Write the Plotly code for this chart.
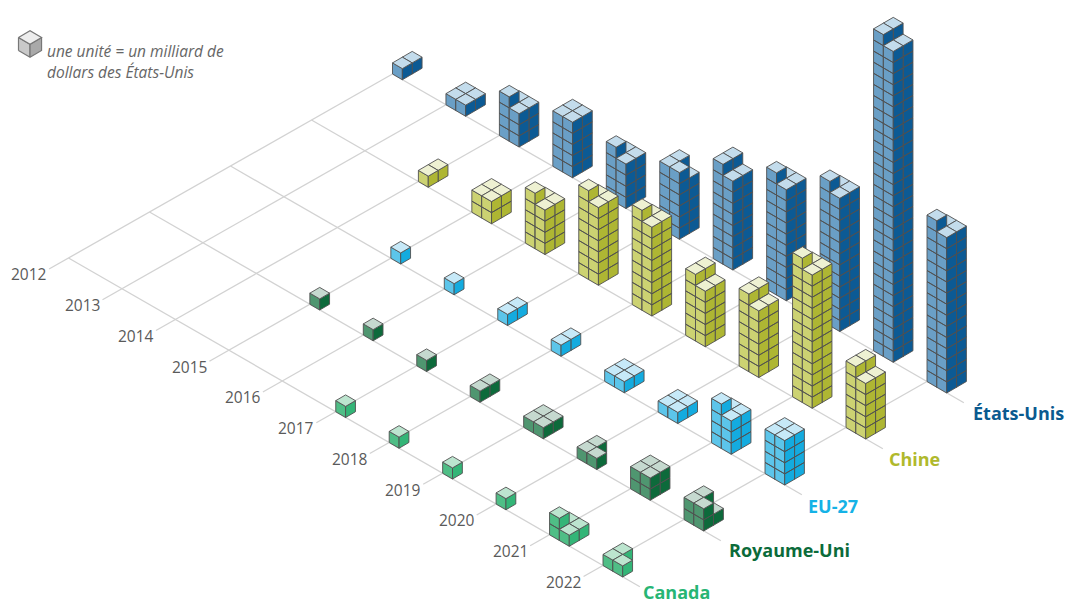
import plotly.graph_objects as go

YEARS = list(range(2012, 2023))
COUNTRIES = ["États-Unis", "Chine", "EU-27", "Royaume-Uni", "Canada"]

etats_unis = [2, 4, 13, 20, 17, 23, 34, 41, 49, 114, 57]
chine = [0, 0, 2, 8, 17, 29, 33, 22, 26, 49, 22]
eu27 = [0, 0, 0, 1, 1, 2, 2, 4, 4, 13, 16]
royaume_uni = [0, 0, 0, 1, 1, 1, 2, 4, 3, 8, 7]
canada = [0, 0, 0, 0, 0, 1, 1, 1, 1, 5, 3]
VALUES = [etats_unis, chine, eu27, royaume_uni, canada]

COLORS = [
    ("#c3dcec", "#6a9fc6", "#0c5a94"),
    ("#eef1d2", "#ccd272", "#aeb633"),
    ("#c6e9f8", "#5cc5ea", "#14abdf"),
    ("#c5d9cf", "#4f9670", "#0d6a3b"),
    ("#bce5cf", "#4fbe86", "#33b577"),
]
LABEL_COLORS = ["#0a5a8f", "#b0b92c", "#15b2e6", "#0b6b3a", "#27b574"]
EDGE = "#505050"
GRID = "#d2d2d2"

ORIGIN = (392.5, 74.0)
YEAR_STEP = (53.45, 30.75)
COUNTRY_STEP = (-81.0, 46.0)
UX, UY, UH = 9.85, 5.75, 11.1


def node(ci, yi):
    return (ORIGIN[0] + yi * YEAR_STEP[0] + ci * COUNTRY_STEP[0],
            ORIGIN[1] + yi * YEAR_STEP[1] + ci * COUNTRY_STEP[1])


def pt(base, u, v, h):
    return (base[0] + (u + v) * UX, base[1] + (u - v) * UY - h * UH)


def add_faces(xs, ys, corners):
    for x, y in corners + corners[:1]:
        xs.append(x)
        ys.append(y)
    xs.append(None)
    ys.append(None)


def column(fig, base, u, v, height, cols):
    for face in (1, 2):
        xs, ys = [], []
        for h in range(height):
            if face == 1:
                c = [pt(base, u, v, h), pt(base, u + 1, v, h), pt(base, u + 1, v, h + 1), pt(base, u, v, h + 1)]
            else:
                c = [pt(base, u + 1, v, h), pt(base, u + 1, v + 1, h), pt(base, u + 1, v + 1, h + 1), pt(base, u + 1, v, h + 1)]
            add_faces(xs, ys, c)
        fig.add_trace(go.Scatter(x=xs, y=ys, mode="lines", fill="toself", fillcolor=cols[face],
                                 line=dict(color=EDGE, width=0.9), hoverinfo="skip", showlegend=False))
    xs, ys = [], []
    add_faces(xs, ys, [pt(base, u, v, height), pt(base, u + 1, v, height),
                       pt(base, u + 1, v + 1, height), pt(base, u, v + 1, height)])
    fig.add_trace(go.Scatter(x=xs, y=ys, mode="lines", fill="toself", fillcolor=cols[0],
                             line=dict(color=EDGE, width=0.9), hoverinfo="skip", showlegend=False))


def column_heights(n):
    """Layers fill left, back, front, right."""
    full, extra = divmod(n, 4)
    return {"left": full + (extra > 0), "back": full + (extra > 1),
            "front": full + (extra > 2), "right": full}


fig = go.Figure()

# Grid
for ci in range(len(COUNTRIES)):
    a, b = node(ci, 0), node(ci, len(YEARS) - 1)
    end = (b[0] + 0.69 * YEAR_STEP[0], b[1] + 0.69 * YEAR_STEP[1])
    fig.add_trace(go.Scatter(x=[a[0], end[0]], y=[a[1], end[1]], mode="lines",
                             line=dict(color=GRID, width=1.3), hoverinfo="skip", showlegend=False))
for yi in range(len(YEARS)):
    a, b = node(0, yi), node(len(COUNTRIES) - 1, yi)
    start = (b[0] + 0.24 * COUNTRY_STEP[0], b[1] + 0.24 * COUNTRY_STEP[1])
    fig.add_trace(go.Scatter(x=[start[0], a[0]], y=[start[1], a[1]], mode="lines",
                             line=dict(color=GRID, width=1.3), hoverinfo="skip", showlegend=False))

# Stacks, back to front
cells = sorted(((yi + ci, ci, yi) for ci in range(len(COUNTRIES)) for yi in range(len(YEARS))))
for _, ci, yi in cells:
    n = VALUES[ci][yi]
    if not n:
        continue
    base = node(ci, yi)
    heights = column_heights(n)
    for name, u, v in (("back", 0, 1), ("left", 0, 0), ("right", 1, 1), ("front", 1, 0)):
        if heights[name]:
            column(fig, base, u, v, heights[name], COLORS[ci])

annotations = []
# Year labels
for yi, yr in enumerate(YEARS):
    x, y = node(len(COUNTRIES) - 1, yi)
    annotations.append(dict(x=x - 39.5, y=y + 16.3, text=str(yr), showarrow=False, xanchor="center", yanchor="middle",
                            font=dict(family="Open Sans", size=15.5, color="#5a5a5a")))
# Country labels
LABEL_POS = [(1018, 413), (914, 459), (833, 506), (789, 550), (676, 591.5)]
for name, (x, y), col in zip(COUNTRIES, LABEL_POS, LABEL_COLORS):
    annotations.append(dict(x=x, y=y, text=f"<b>{name}</b>", showarrow=False, xanchor="center", yanchor="middle",
                            borderpad=0, font=dict(family="Open Sans", size=18, color=col)))
# Key
annotations.append(dict(x=45, y=51, text="<i>une unité = un milliard de</i>", showarrow=False, xanchor="left",
                        yanchor="middle", font=dict(family="Open Sans", size=15.5, color="#666666")))
annotations.append(dict(x=45, y=72, text="<i>dollars des États-Unis</i>", showarrow=False, xanchor="left",
                        yanchor="middle", font=dict(family="Open Sans", size=15.5, color="#666666")))

KEY_BASE = (18.5, 50.5)
KEY_SCALE = 1.17


def kp(u, v, h):
    return (KEY_BASE[0] + (u + v) * UX * KEY_SCALE, KEY_BASE[1] + (u - v) * UY * KEY_SCALE - h * UH * KEY_SCALE)


for col, corners in (("#c9c9c9", [kp(0, 0, 0), kp(1, 0, 0), kp(1, 0, 1), kp(0, 0, 1)]),
                     ("#a9a9a9", [kp(1, 0, 0), kp(1, 1, 0), kp(1, 1, 1), kp(1, 0, 1)]),
                     ("#ededed", [kp(0, 0, 1), kp(1, 0, 1), kp(1, 1, 1), kp(0, 1, 1)])):
    xs, ys = [], []
    add_faces(xs, ys, corners)
    fig.add_trace(go.Scatter(x=xs, y=ys, mode="lines", fill="toself", fillcolor=col,
                             line=dict(color="#777777", width=1.2), hoverinfo="skip", showlegend=False))

fig.update_layout(
    width=1066, height=604, margin=dict(l=0, r=0, t=0, b=0),
    paper_bgcolor="white", plot_bgcolor="white", showlegend=False, annotations=annotations,
    xaxis=dict(range=[0, 1066], visible=False, fixedrange=True),
    yaxis=dict(range=[604, 0], visible=False, fixedrange=True),
)
fig.write_html("out.html", config={"displayModeBar": False},
               post_script="document.body.style.margin='0';document.documentElement.style.overflow='hidden';")
